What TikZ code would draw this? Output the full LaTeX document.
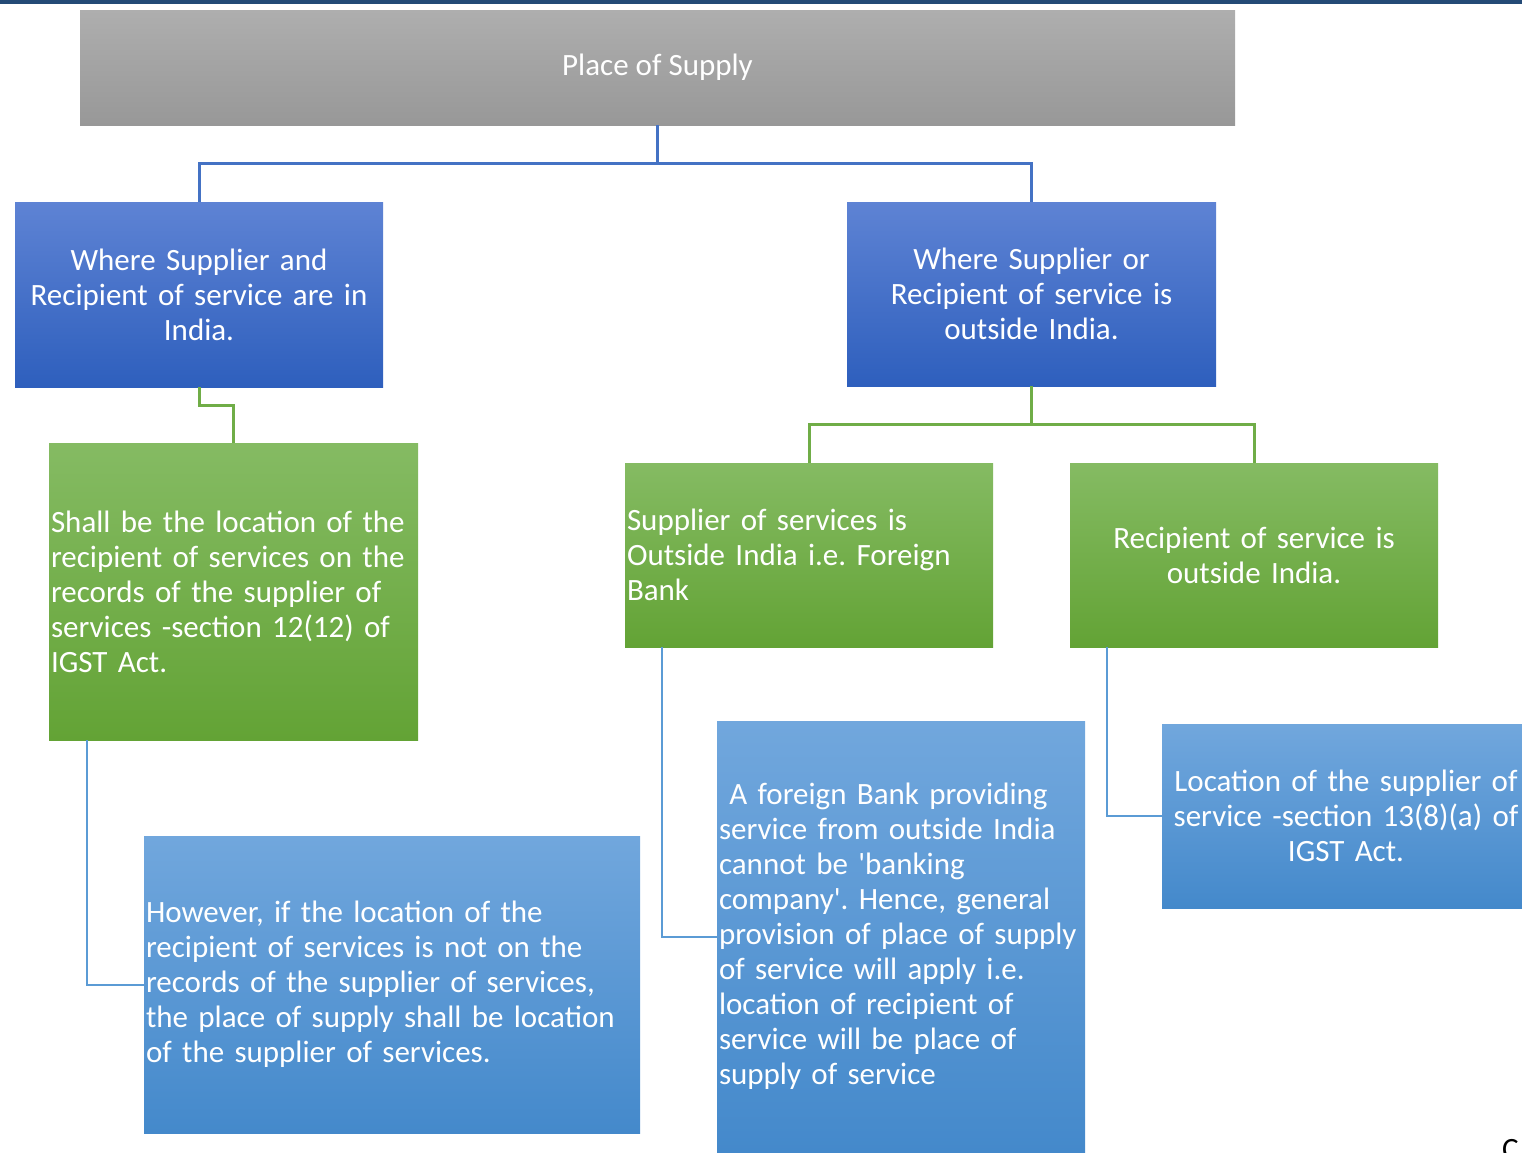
\documentclass[tikz,border=0pt]{standalone}
\usepackage{fontspec}
\setmainfont{Carlito}
\definecolor{greytop}{RGB}{174,174,174}
\definecolor{greybot}{RGB}{152,152,152}
\definecolor{bluetop}{RGB}{94,131,212}
\definecolor{bluebot}{RGB}{46,95,189}
\definecolor{greentop}{RGB}{133,187,99}
\definecolor{greenbot}{RGB}{99,163,53}
\definecolor{skytop}{RGB}{113,167,221}
\definecolor{skybot}{RGB}{68,137,203}
\definecolor{bluelink}{RGB}{68,114,196}
\definecolor{greenlink}{RGB}{112,173,71}
\definecolor{skylink}{RGB}{91,155,213}
\definecolor{bar}{RGB}{36,74,118}
\usetikzlibrary{positioning}
\newcommand*{\boxfont}{\fontsize{31}{35}\selectfont\frenchspacing}
\tikzstyle{box}=[anchor=north west, inner xsep=2pt, inner ysep=0pt, outer sep=0pt, text=white, font=\boxfont]
\tikzstyle{greybox}=[box, top color=greytop, bottom color=greybot]
\tikzstyle{bluebox}=[box, top color=bluetop, bottom color=bluebot, align=center]
\tikzstyle{greenbox}=[box, top color=greentop, bottom color=greenbot]
\tikzstyle{skybox}=[box, top color=skytop, bottom color=skybot]
\tikzstyle{bluewire}=[draw=bluelink, line width=3pt]
\tikzstyle{greenwire}=[draw=greenlink, line width=3pt]
\tikzstyle{skywire}=[draw=skylink, line width=2pt]

\begin{document}
\begin{tikzpicture}[x=1pt, y=-1pt]
    \useasboundingbox (0,0) rectangle (1522,1152);
    \fill [bar] (0,0) rectangle (1522,4);
    % boxes
    \node [greybox, minimum width=1155pt, minimum height=115pt, align=center] (pos) at (80,10) {Place of Supply};
    \node [bluebox, minimum width=368pt, minimum height=185pt, text width=364pt] (inind) at (15,202)
        {Where Supplier and\\Recipient of service are in\\India.};
    \node [bluebox, minimum width=369pt, minimum height=184pt, text width=365pt] (outind) at (847,202)
        {Where Supplier or\\Recipient of service is\\outside India.};
    \node [greenbox, minimum width=369pt, minimum height=297pt, text width=365pt, align=left] (shall) at (49,443)
        {Shall be the location of the\\recipient of services on the\\records of the supplier of\\services -section 12(12) of\\IGST Act.};
    \node [greenbox, minimum width=368pt, minimum height=184pt, text width=364pt, align=left] (foreign) at (625,463)
        {Supplier of services is\\Outside India i.e. Foreign\\Bank};
    \node [greenbox, minimum width=368pt, minimum height=184pt, text width=364pt, align=center] (abroad) at (1070,463)
        {Recipient of service is\\outside India.};
    \node [skybox, minimum width=496pt, minimum height=297pt, text width=492pt, align=left] (however) at (144,836)
        {However, if the location of the\\recipient of services is not on the\\records of the supplier of services,\\the place of supply shall be location\\of the supplier of services.};
    \node [skybox, minimum width=368pt, minimum height=431pt, text width=364pt, align=left] (bank) at (717,721)
        {\ A foreign Bank providing\\service from outside India\\cannot be \textquotesingle banking\\company\textquotesingle. Hence, general\\provision of place of supply\\of service will apply i.e.\\location of recipient of\\service will be place of\\supply of service};
    \node [skybox, minimum width=368pt, minimum height=184pt, text width=364pt, align=center] (loc) at (1162,724)
        {Location of the supplier of\\service -section 13(8)(a) of\\IGST Act.};
    \node [anchor=north west, inner sep=0pt, font=\boxfont] (edge) at (1502,1139) {C};
    % connectors
    \coordinate (split) at (657.5,163);
    \draw [bluewire] (pos.south) -- (split) -| (inind.north);
    \draw [bluewire] (split) -| (outind.north);
    \draw [greenwire] (inind.south) -- ++(0,18) -| (shall.north);
    \coordinate (fork) at (1031.5,424);
    \draw [greenwire] (outind.south) -- (fork) -| (foreign.north);
    \draw [greenwire] (fork) -| (abroad.north);
    \draw [skywire] ([xshift=38pt]shall.south west) |- (however.west);
    \draw [skywire] ([xshift=37pt]foreign.south west) |- (bank.west);
    \draw [skywire] ([xshift=37pt]abroad.south west) |- (loc.west);
\end{tikzpicture}
\end{document}
